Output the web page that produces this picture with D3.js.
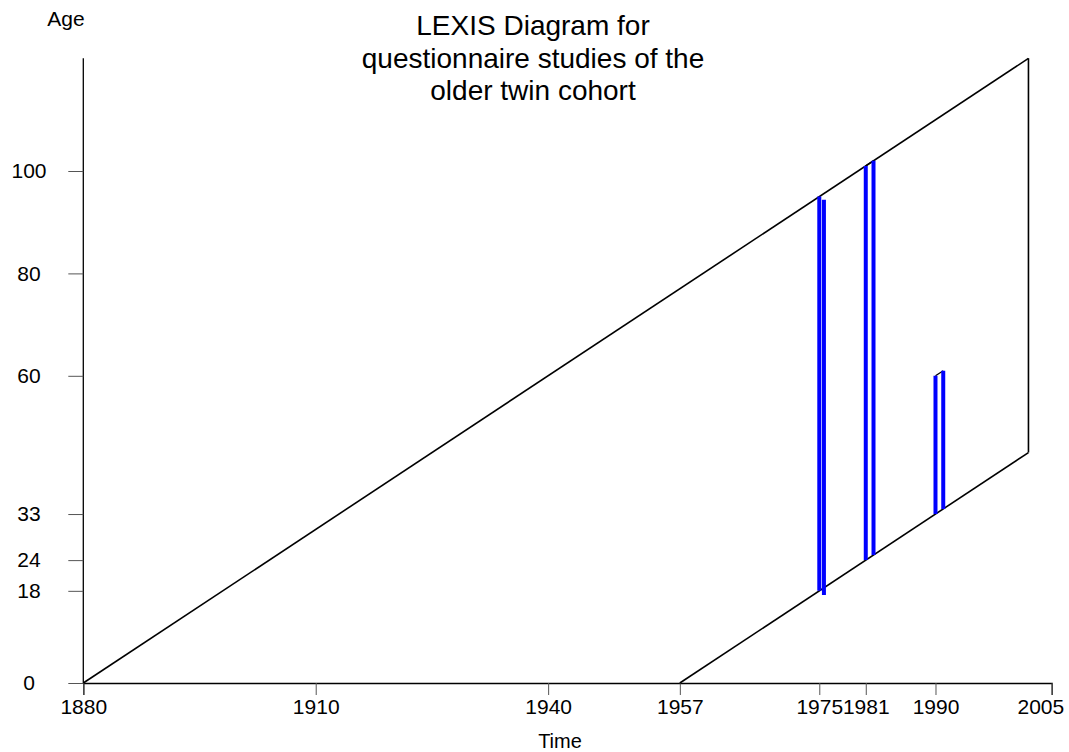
<!DOCTYPE html>
<html>
<head>
<meta charset="utf-8">
<script src="https://cdn.jsdelivr.net/npm/d3@7"></script>
<style>
  body { margin: 0; background: #fff; }
  text { font-family: "Liberation Sans", Arial, sans-serif; fill: #000; }
</style>
</head>
<body>
<script>
const width = 1069;
const height = 752;

// tick labels
const xTicks = [1880, 1910, 1940, 1957, 1975, 1981, 1990, 2005];
const yTicks = [0, 18, 24, 33, 60, 80, 100];

// lexis frame: [time, age] corners
const upperLine = [[1880, 0], [2002, 122]];
const lowerLine = [[1957, 0], [2002, 45]];
const rightEdge = [[2002, 45], [2002, 122]];

// studies: start/end time with age range at each
const studyNames = ["1975", "1981", "1990"];
const studyStart = [1975, 1981, 1990];
const studyEnd = [1975.6, 1982, 1991];
const startAges = [[18, 95], [24, 101], [33, 60]];
const endAges = [[17.2, 94.4], [25, 102], [34, 61]];

const titleLines = ["LEXIS Diagram for", "questionnaire studies of the", "older twin cohort"];

const svg = d3
    .select("body")
    .append("svg")
    .attr("width", width)
    .attr("height", height);

const x = d3.scaleLinear().domain([1880, 2005]).range([83.3, 1051.7]);
const y = d3.scaleLinear().domain([0, 100]).range([683, 171]);

const line = d3.line().x((d) => x(d[0])).y((d) => y(d[1]));

// axes
const xAxis = d3.axisBottom(x).tickValues(xTicks).tickFormat(d3.format("d")).tickSize(12).tickPadding(4);
const gx = svg.append("g").attr("transform", `translate(0,${y(0)})`).call(xAxis);
gx.select(".domain").attr("stroke-width", 1.3);
gx.selectAll("text")
    .attr("font-size", 21)
    .attr("font-family", "Liberation Sans, Arial, sans-serif");
// last label pulled inside the page, like the original
gx.selectAll("text").filter((d) => d === 2005).attr("text-anchor", "end").attr("dx", 12);

const yAxis = d3.axisLeft(y).tickValues(yTicks).tickSize(15).tickPadding(0);
const gy = svg.append("g").attr("transform", `translate(${x(1880)},0)`).call(yAxis);
gy.select(".domain").attr("d", `M0,${y(0)}V${y(122)}`).attr("stroke-width", 1.3);
gy.selectAll("text")
    .attr("font-size", 21)
    .attr("font-family", "Liberation Sans, Arial, sans-serif")
    .attr("text-anchor", "middle")
    .attr("x", 29 - x(1880));
gy.selectAll(".tick line").attr("stroke", "#555");
gx.selectAll(".tick line").attr("stroke", "#555");

// lexis frame
[upperLine, lowerLine, rightEdge].forEach((seg) => {
    svg.append("path")
        .attr("d", line(seg))
        .attr("fill", "none")
        .attr("stroke", "black")
        .attr("stroke-width", 1.6);
});

// studies
studyNames.forEach((name, i) => {
    // connector along the cohort tops (only where the cohort ages on)
    if (endAges[i][1] > startAges[i][1]) {
        svg.append("path")
            .attr("d", line([[studyStart[i], startAges[i][1]], [studyEnd[i], endAges[i][1]]]))
            .attr("stroke", "black")
            .attr("stroke-width", 1.3);
    }
    svg.append("path")
        .attr("d", line([[studyStart[i], startAges[i][0]], [studyStart[i], startAges[i][1]]]))
        .attr("stroke", "blue")
        .attr("stroke-width", 4);
    svg.append("path")
        .attr("d", line([[studyEnd[i], endAges[i][0]], [studyEnd[i], endAges[i][1]]]))
        .attr("stroke", "blue")
        .attr("stroke-width", 4);
});

// title
svg.append("text")
    .attr("x", 533)
    .attr("y", 35)
    .attr("text-anchor", "middle")
    .attr("font-size", 28)
    .selectAll("tspan")
    .data(titleLines)
    .join("tspan")
    .attr("x", 533)
    .attr("dy", (d, i) => (i === 0 ? 0 : 32.5))
    .text((d) => d);

// axis titles
svg.append("text")
    .attr("x", 66)
    .attr("y", 26)
    .attr("text-anchor", "middle")
    .attr("font-size", 21)
    .text("Age");

svg.append("text")
    .attr("x", 560)
    .attr("y", 748)
    .attr("text-anchor", "middle")
    .attr("font-size", 20)
    .text("Time");
</script>
</body>
</html>
